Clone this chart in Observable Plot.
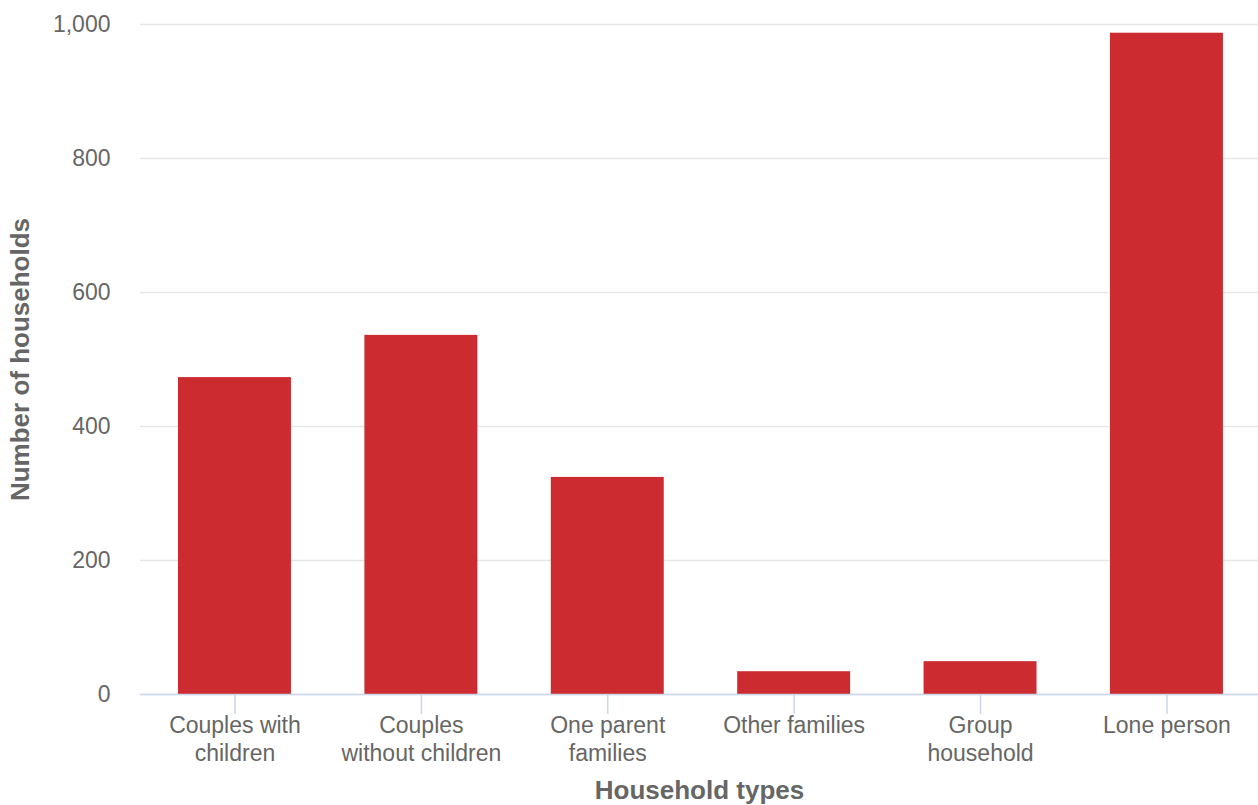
<!DOCTYPE html>
<html>
<head>
<meta charset="utf-8">
<script src="https://cdn.jsdelivr.net/npm/d3@7"></script>
<script src="https://cdn.jsdelivr.net/npm/@observablehq/plot@0.6"></script>
<style>
  html, body { margin: 0; padding: 0; background: #ffffff; }
  #chart { width: 1258px; height: 805px; }
</style>
</head>
<body>
<div id="chart"></div>
<script>
const categories = ["Couples with children", "Couples without children", "One parent families", "Other families", "Group household", "Lone person"];
const tickLabels = ["Couples with\nchildren", "Couples\nwithout children", "One parent\nfamilies", "Other families", "Group\nhousehold", "Lone person"];
const households = [473, 536, 324, 34, 49, 987];
const yTicks = [0, 200, 400, 600, 800, 1000];
const xTitle = "Household types";
const yTitle = "Number of households";

const data = categories.map((c, i) => ({category: c, value: households[i]}));
const labelOf = new Map(categories.map((c, i) => [c, tickLabels[i]]));

const font = "'Liberation Sans', Arial, Helvetica, sans-serif";
const textColor = "#666666";

const chart = Plot.plot({
  width: 1258,
  height: 805,
  marginLeft: 140,
  marginRight: 0,
  marginTop: 24,
  marginBottom: 111,
  style: {fontFamily: font, fontSize: "23px", color: textColor, background: "#ffffff", overflow: "visible"},
  x: {domain: categories, paddingInner: 0.394, paddingOuter: 0.196, align: 0.52, round: false, label: null},
  y: {domain: [0, 1000], label: null},
  marks: [
    Plot.gridY(yTicks, {stroke: "#e6e6e6", strokeOpacity: 1, strokeWidth: 1.5}),
    Plot.barY(data, {x: "category", y: "value", fill: "#cc2c30"}),
    Plot.ruleY([0], {stroke: "#ccd6eb", strokeWidth: 1.5}),
    Plot.axisY(yTicks, {
      tickSize: 0, tickPadding: 30, tickFormat: d3.format(","),
      fill: textColor, fontSize: 23, label: null
    }),
    Plot.axisX({
      tickSize: 20, tickPadding: -1, stroke: "#ccd6eb", strokeWidth: 1.5,
      tickFormat: d => labelOf.get(d), lineHeight: 1.2,
      fill: textColor, fontSize: 23, label: null
    }),
    Plot.text([xTitle], {
      frameAnchor: "bottom", dy: 96, text: d => d, lineAnchor: "middle", textAnchor: "middle",
      fontSize: 26, fontWeight: "bold", fill: textColor
    }),
    Plot.text([yTitle], {
      frameAnchor: "left", dx: -120, rotate: -90, text: d => d, lineAnchor: "middle", textAnchor: "middle",
      fontSize: 26, fontWeight: "bold", fill: textColor
    })
  ]
});
document.getElementById("chart").appendChild(chart);
</script>
</body>
</html>
